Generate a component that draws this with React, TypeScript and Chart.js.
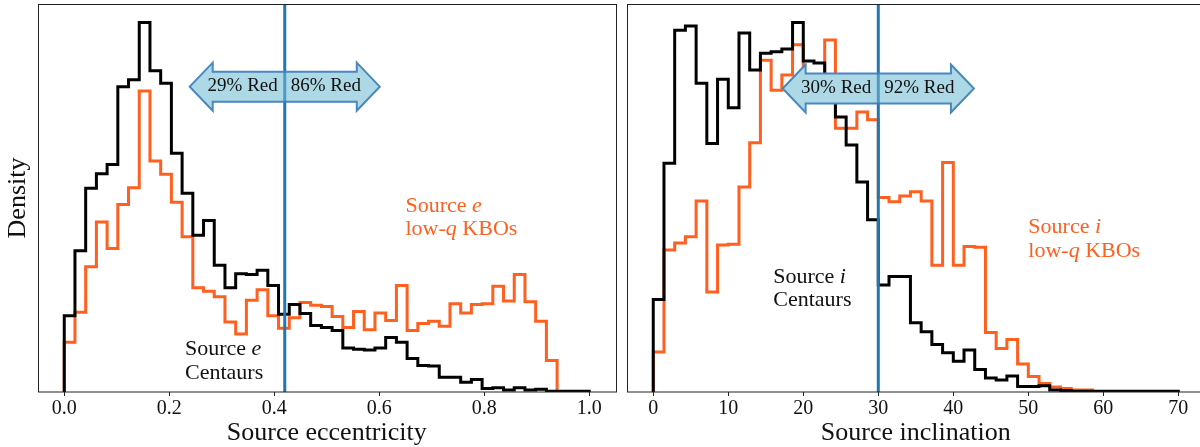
import React, { useEffect, useRef } from "react";
import { Chart, registerables } from "chart.js";

Chart.register(...registerables);

// ---------------- data ----------------
// Histogram bins: 49 equal bins over the given range
const E_RANGE = [0, 1.0];
const E_CENTAURS = [
  1.09, 2.02, 2.91, 3.12, 3.25, 4.36, 4.46, 5.28, 4.59, 4.41,
  3.41, 2.84, 2.24, 2.45, 1.81, 1.49, 1.69, 1.68, 1.74, 1.52,
  1.11, 1.25, 1.12, 0.95, 0.92, 0.88, 0.63, 0.61, 0.6, 0.63,
  0.78, 0.71, 0.48, 0.38, 0.37, 0.21, 0.21, 0.14, 0.18, 0.05,
  0.06, 0.03, 0.06, 0.03, 0.04, 0.01, 0.01, 0.01, 0.01,
];
const E_KBOS = [
  0.71, 1.14, 1.79, 2.43, 2.05, 2.68, 2.92, 4.3, 3.3, 3.11,
  2.71, 2.22, 1.49, 1.44, 1.36, 1.0, 0.83, 1.31, 1.46, 1.09,
  0.91, 1.06, 1.28, 1.24, 1.22, 1.08, 0.92, 1.15, 0.89, 1.13,
  1.02, 1.52, 0.88, 0.98, 1.01, 0.94, 1.26, 1.13, 1.25, 1.26,
  1.51, 1.3, 1.68, 1.29, 1.01, 0.45, 0, 0, 0,
];
const E_TICKS = [0, 0.2, 0.4, 0.6, 0.8, 1.0];
const E_SPLIT = 0.42;
const E_ARROW_HALF = 0.181;
const E_ARROW_Y = 4.363;
const E_RED = ["29% Red", "86% Red"];

const I_RANGE = [0, 70];
const I_CENTAURS = [
  0.0132, 0.0327, 0.0517, 0.0523, 0.0441, 0.0355, 0.0447, 0.0406, 0.0513, 0.046,
  0.0484, 0.0486, 0.049, 0.0528, 0.0473, 0.047, 0.0429, 0.0393, 0.0353, 0.03,
  0.0246, 0.0153, 0.0165, 0.0165, 0.0099, 0.0086, 0.0068, 0.0056, 0.0044, 0.006,
  0.0032, 0.002, 0.0017, 0.0023, 0.0008, 0.0008, 0.0009, 0.0003, 0.0002, 0.0001,
  0.0001, 0.0001, 0.0001, 0.0001, 0.0001, 0.0001, 0.0001, 0.0001, 0.0001,
];
const I_KBOS = [
  0.0057, 0.0203, 0.0213, 0.0222, 0.0273, 0.0143, 0.021, 0.0211, 0.0293, 0.0356,
  0.0474, 0.0431, 0.0453, 0.0496, 0.0424, 0.0417, 0.0503, 0.0377, 0.0377, 0.04,
  0.0389, 0.0278, 0.0272, 0.028, 0.0286, 0.0273, 0.0181, 0.0328, 0.0181, 0.0208,
  0.0207, 0.0085, 0.0062, 0.0075, 0.004, 0.0022, 0.0012, 0.0007, 0.0005, 0.0003,
  0.0003, 0, 0, 0, 0, 0, 0, 0, 0,
];
const I_TICKS = [0, 10, 20, 30, 40, 50, 60, 70];
const I_SPLIT = 30;
const I_ARROW_HALF = 12.75;
const I_ARROW_Y = 0.04337;
const I_RED = ["30% Red", "92% Red"];

// text annotations (x, baseline y in data units)
const E_NOTES = [
  { x: 0.23, y: 0.525, color: "black", lines: [[["Source ", false], ["e", true]], [["Centaurs", false]]] },
  { x: 0.65, y: 2.576, color: "orange", lines: [[["Source ", false], ["e", true]], [["low-", false], ["q", true], [" KBOs", false]]] },
];
const I_NOTES = [
  { x: 16.0, y: 0.01563, color: "black", lines: [[["Source ", false], ["i", true]], [["Centaurs", false]]] },
  { x: 50.0, y: 0.02269, color: "orange", lines: [[["Source ", false], ["i", true]], [["low-", false], ["q", true], [" KBOs", false]]] },
];

// ---------------- styles ----------------
const SERIF = '"Liberation Serif", "DejaVu Serif", serif';
const ORANGE = "#ff5f1f";
const BLACK = "#000000";
const SPLIT_BLUE = "#1f77b4";
const ARROW_FILL = "#add8e6";
const ARROW_EDGE = "#4a86bf";
const FRAME = "#222222";

type Note = { x: number; y: number; color: string; lines: [string, boolean][][] };

type Panel = {
  range: number[];
  centaurs: number[];
  kbos: number[];
  ticks: number[];
  tickDigits: number;
  split: number;
  arrowHalf: number;
  arrowY: number;
  red: string[];
  notes: Note[];
  xTitle: string;
  yTitle: string | null;
  canvasLeft: number;
  canvasWidth: number;
  padding: { left: number; right: number; top: number; bottom: number };
};

function stepPoints(values: number[], lo: number, hi: number) {
  const n = values.length;
  const w = (hi - lo) / n;
  const pts: { x: number; y: number }[] = [{ x: lo, y: 0 }];
  values.forEach((v, i) => pts.push({ x: lo + i * w, y: v }));
  pts.push({ x: hi, y: 0 });
  return pts;
}

function makeDecor(p: Panel) {
  return {
    id: "panelDecor",
    afterDatasetsDraw(chart: any) {
      const { ctx, chartArea: a } = chart;
      const xs = chart.scales.x;
      const ys = chart.scales.y;
      const sx = xs.getPixelForValue(p.split);

      ctx.save();
      // split line
      ctx.strokeStyle = SPLIT_BLUE;
      ctx.lineWidth = 3;
      ctx.beginPath();
      ctx.moveTo(sx, a.top);
      ctx.lineTo(sx, a.bottom);
      ctx.stroke();

      // double arrow
      const xl = xs.getPixelForValue(p.split - p.arrowHalf);
      const xr = xs.getPixelForValue(p.split + p.arrowHalf);
      const yc = ys.getPixelForValue(p.arrowY);
      const hh = 24, bh = 15, hl = 23;
      const path = new Path2D();
      path.moveTo(xl, yc);
      path.lineTo(xl + hl, yc - hh);
      path.lineTo(xl + hl, yc - bh);
      path.lineTo(xr - hl, yc - bh);
      path.lineTo(xr - hl, yc - hh);
      path.lineTo(xr, yc);
      path.lineTo(xr - hl, yc + hh);
      path.lineTo(xr - hl, yc + bh);
      path.lineTo(xl + hl, yc + bh);
      path.lineTo(xl + hl, yc + hh);
      path.closePath();
      ctx.fillStyle = ARROW_FILL;
      ctx.fill(path);
      ctx.strokeStyle = ARROW_EDGE;
      ctx.lineWidth = 2;
      ctx.lineJoin = "miter";
      ctx.stroke(path);

      // split line seen through arrow
      ctx.save();
      ctx.clip(path);
      ctx.globalAlpha = 0.65;
      ctx.strokeStyle = SPLIT_BLUE;
      ctx.lineWidth = 3;
      ctx.beginPath();
      ctx.moveTo(sx, a.top);
      ctx.lineTo(sx, a.bottom);
      ctx.stroke();
      ctx.restore();

      // arrow labels
      ctx.fillStyle = "#111";
      ctx.font = `19px ${SERIF}`;
      ctx.textBaseline = "alphabetic";
      ctx.textAlign = "right";
      ctx.fillText(p.red[0], sx - 7, yc + 4.8);
      ctx.textAlign = "left";
      ctx.fillText(p.red[1], sx + 6, yc + 4.8);

      // notes
      for (const n of p.notes) {
        let y = ys.getPixelForValue(n.y);
        const x0 = xs.getPixelForValue(n.x);
        ctx.fillStyle = n.color === "orange" ? ORANGE : "#111";
        ctx.textAlign = "left";
        for (const line of n.lines) {
          let x = x0;
          for (const [t, it] of line) {
            ctx.font = `${it ? "italic " : ""}22px ${SERIF}`;
            ctx.fillText(t, x, y);
            x += ctx.measureText(t).width;
          }
          y += 23.3;
        }
      }

      // frame
      ctx.strokeStyle = FRAME;
      ctx.lineWidth = 1;
      ctx.strokeRect(Math.round(a.left) + 0.5, Math.round(a.top) + 0.5, Math.round(a.right - a.left), Math.round(a.bottom - a.top) - 0.5);
      ctx.restore();
    },
  };
}

function makeConfig(p: Panel): any {
  const [lo, hi] = p.range;
  const span = hi - lo;
  const yMax = Math.max(...p.centaurs, ...p.kbos) * 1.05;
  const hasY = p.yTitle !== null;
  const line = (data: any, color: string) => ({
    data,
    borderColor: color,
    borderWidth: 3,
    stepped: "before",
    pointRadius: 0,
    fill: false,
    tension: 0,
    borderJoinStyle: "miter",
    borderCapStyle: "butt",
  });
  return {
    type: "line",
    data: {
      datasets: [
        line(stepPoints(p.centaurs, lo, hi), BLACK),
        line(stepPoints(p.kbos, lo, hi), ORANGE),
      ],
    },
    options: {
      responsive: false,
      animation: false,
      events: [],
      layout: { padding: p.padding },
      plugins: { legend: { display: false }, tooltip: { enabled: false } },
      scales: {
        x: {
          type: "linear",
          min: lo - 0.05 * span,
          max: hi + 0.05 * span,
          afterBuildTicks: (s: any) => {
            s.ticks = p.ticks.map((v) => ({ value: v }));
          },
          afterFit: (s: any) => {
            s.height = 55;
          },
          ticks: {
            autoSkip: false,
            maxRotation: 0,
            padding: 1,
            color: "#111",
            font: { family: SERIF, size: 20 },
            callback: (v: number) => Number(v).toFixed(p.tickDigits),
          },
          grid: {
            display: true,
            drawOnChartArea: false,
            drawTicks: true,
            tickLength: 4,
            tickWidth: 1,
            tickColor: FRAME,
          },
          border: { display: false },
          title: {
            display: true,
            text: p.xTitle,
            color: "#111",
            font: { family: SERIF, size: 26, lineHeight: 1 },
            padding: { top: 0, bottom: 1 },
          },
        },
        y: {
          display: hasY,
          min: 0,
          max: yMax,
          ticks: { display: false },
          grid: { display: false },
          border: { display: false },
          afterFit: (s: any) => {
            s.width = hasY ? 38 : 0;
          },
          title: {
            display: hasY,
            text: p.yTitle || "",
            color: "#111",
            font: { family: SERIF, size: 26, lineHeight: 1 },
            padding: { top: 5, bottom: 0 },
          },
        },
      },
    },
    plugins: [makeDecor(p)],
  };
}

const PANELS: Panel[] = [
  {
    range: E_RANGE,
    centaurs: E_CENTAURS,
    kbos: E_KBOS,
    ticks: E_TICKS,
    tickDigits: 1,
    split: E_SPLIT,
    arrowHalf: E_ARROW_HALF,
    arrowY: E_ARROW_Y,
    red: E_RED,
    notes: E_NOTES as any,
    xTitle: "Source eccentricity",
    yTitle: "Density",
    canvasLeft: 0,
    canvasWidth: 620,
    padding: { left: 0, right: 4.5, top: 4, bottom: 0 },
  },
  {
    range: I_RANGE,
    centaurs: I_CENTAURS,
    kbos: I_KBOS,
    ticks: I_TICKS,
    tickDigits: 0,
    split: I_SPLIT,
    arrowHalf: I_ARROW_HALF,
    arrowY: I_ARROW_Y,
    red: I_RED,
    notes: I_NOTES as any,
    xTitle: "Source inclination",
    yTitle: null,
    canvasLeft: 620,
    canvasWidth: 605,
    padding: { left: 7, right: 20.4, top: 4, bottom: 0 },
  },
];

function PanelChart({ panel }: { panel: Panel }) {
  const ref = useRef<HTMLCanvasElement | null>(null);
  useEffect(() => {
    if (!ref.current) return;
    const chart = new Chart(ref.current, makeConfig(panel));
    return () => chart.destroy();
  }, [panel]);
  return (
    <canvas
      ref={ref}
      width={panel.canvasWidth}
      height={447}
      style={{
        position: "absolute",
        left: panel.canvasLeft,
        top: 0,
        width: panel.canvasWidth,
        height: 447,
        display: "block",
      }}
    />
  );
}

export default function App() {
  return (
    <div
      style={{
        position: "fixed",
        left: 0,
        top: 0,
        width: 1200,
        height: 447,
        overflow: "hidden",
        background: "#ffffff",
      }}
    >
      {PANELS.map((p, i) => (
        <PanelChart key={i} panel={p} />
      ))}
    </div>
  );
}
